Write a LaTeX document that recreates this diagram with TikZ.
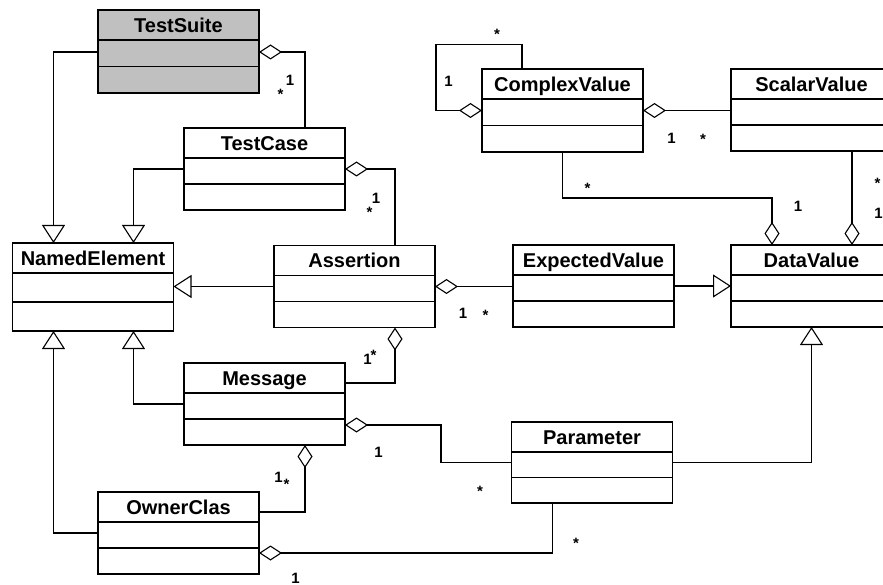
\documentclass[tikz,border=0pt]{standalone}
\usepackage{fontspec}
\setmainfont{Liberation Sans}
\usetikzlibrary{arrows.meta,calc}
\definecolor{suitegray}{RGB}{192,192,192}
% class box: [fill]{name}{centre}{height}{title}
\newcommand{\umlclass}[5][white]{%
\node[classbox, fill=#1, minimum height=#4pt] (#2) at (#3) {};
\node[classname] (#2-name) at ([yshift=-15pt]#2.north) {#5};
\draw ([yshift=-30pt]#2.north west) -- ([yshift=-30pt]#2.north east);
\draw ($([yshift=-30pt]#2.north west)!.5!(#2.south west)$) -- ($([yshift=-30pt]#2.north east)!.5!(#2.south east)$);
}

\begin{document}
\begin{tikzpicture}[x=1pt,y=-1pt,line width=1.7pt,
classbox/.style={draw, rectangle, minimum width=161pt, inner sep=0pt, outer sep=0pt},
classname/.style={font=\bfseries\fontsize{20}{24}\selectfont, inner sep=0pt, text height=14.3pt, text depth=0pt},
mult/.style={font=\bfseries\fontsize{15}{18}\selectfont, inner sep=0pt, text height=10.7pt, text depth=0pt},
inherit/.style={-{Triangle[open,length=18pt,width=23pt,line width=1.1pt]}},
aggr/.style={{Diamond[open,length=23pt,width=15pt,line width=1.1pt]}-}]
\useasboundingbox (0,0) rectangle (883,585);

\umlclass[suitegray]{ts}{178.5,51.5}{83}{TestSuite}
\umlclass{tc}{264.5,169}{82}{TestCase}
\umlclass{ne}{93,287}{88}{NamedElement}
\umlclass{as}{354.5,286.5}{82}{Assertion}
\umlclass{cv}{562.5,110.5}{83}{ComplexValue}
\umlclass{sv}{811.5,110}{82}{ScalarValue}
\umlclass{ev}{593.5,286}{82}{ExpectedValue}
\umlclass{dv}{811.5,286}{82}{DataValue}
\umlclass{ms}{264.5,404}{82}{Message}
\umlclass{oc}{178.5,533}{82}{OwnerClas}
\umlclass{pm}{592,462.5}{81}{Parameter}

% generalisations
\draw[inherit] ([yshift=-42pt]ts.north west) -| ([xshift=41pt]ne.north west);
\draw[inherit] ([yshift=-41pt]tc.north west) -| ([xshift=121pt]ne.north west);
\draw[inherit] (as.west) -- (ne.east |- as.west);
\draw[inherit] (ev.east) -- (dv.west |- ev.east);
\draw[inherit] (ms.west) -| ([xshift=121pt]ne.south west);
\draw[inherit] (oc.west) -| ([xshift=41pt]ne.south west);
\draw[inherit] (pm.east) -| (dv.south);

% aggregations
\draw[aggr] ([yshift=-42pt]ts.north east) -| ([xshift=121pt]tc.north west);
\draw[aggr] ([yshift=-41pt]tc.north east) -| ([xshift=121pt]as.north west);
\draw[aggr] (as.east) -- (ev.west |- as.east);
\draw[aggr] (cv.west) -| ++(-46,-66) -| ([xshift=40pt]cv.north west);
\draw[aggr] (cv.east) -- (sv.west |- cv.east);
\draw[aggr] ([xshift=41pt]dv.north west) -- ++(0,-47) -| (cv.south);
\draw[aggr] ([xshift=121pt]dv.north west) -- ([xshift=121pt]sv.south west);
\draw[aggr] ([xshift=121pt]as.south west) |- ([yshift=-20pt]ms.north east);
\draw[aggr] ([xshift=121pt]ms.south west) |- ([yshift=-20pt]oc.north east);
\draw[aggr] ([yshift=-62pt]ms.north east) -- ++(96,0) |- (pm.west);
\draw[aggr] ([yshift=-61pt]oc.north east) -| ([xshift=41pt]pm.south west);

% multiplicities
\node[mult] (ts-one) at (290,80) {1};
\node[mult] (ts-many) at (280.5,93.8) {*};
\node[mult] (tc-one) at (376,198) {1};
\node[mult] (tc-many) at (369.5,211.8) {*};
\node[mult] (loop-many) at (497,33.8) {*};
\node[mult] (loop-one) at (448.5,81.5) {1};
\node[mult] (cv-one) at (671.5,138) {1};
\node[mult] (sv-many) at (703,138.8) {*};
\node[mult] (cv-many) at (587.5,188.3) {*};
\node[mult] (dv-one) at (798,206.5) {1};
\node[mult] (sv-down) at (877.5,183.3) {*};
\node[mult] (dv-two) at (878.5,213) {1};
\node[mult] (as-one) at (463,313.5) {1};
\node[mult] (ev-many) at (485.5,314.8) {*};
\node[mult] (ms-one) at (367.5,359.5) {1};
\node[mult] (ms-many) at (373.5,355.3) {*};
\node[mult] (oc-one) at (278.5,477.5) {1};
\node[mult] (oc-many) at (286.5,484.3) {*};
\node[mult] (pm-one) at (378.5,452.5) {1};
\node[mult] (pm-many) at (480,490.8) {*};
\node[mult] (op-many) at (576,542.8) {*};
\node[mult] (op-one) at (295.5,578) {1};
\end{tikzpicture}
\end{document}
